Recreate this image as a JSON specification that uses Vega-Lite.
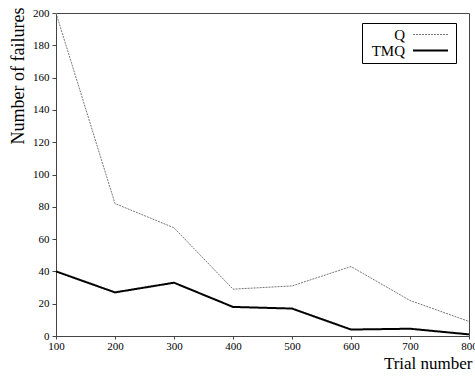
{
  "$schema": "https://vega.github.io/schema/vega-lite/v6.json",
  "autosize": "none",
  "width": 413,
  "height": 323,
  "padding": {"left": 56, "top": 13, "right": 6, "bottom": 41},
  "background": "white",
  "config": {
    "font": "Liberation Serif",
    "view": {"stroke": "#444", "strokeWidth": 1},
    "axis": {"grid": false, "labelFont": "Liberation Serif", "titleFont": "Liberation Serif", "labelColor": "#000", "titleColor": "#000", "domain": false, "tickColor": "#444", "tickSize": 4, "labelFontSize": 11, "titleFontSize": 17, "titleFontWeight": "normal"}
  },
  "data": {"values": [
    {"trial": 100, "series": "Q", "failures": 200},
    {"trial": 200, "series": "Q", "failures": 82},
    {"trial": 300, "series": "Q", "failures": 67},
    {"trial": 400, "series": "Q", "failures": 29},
    {"trial": 500, "series": "Q", "failures": 31},
    {"trial": 600, "series": "Q", "failures": 43},
    {"trial": 700, "series": "Q", "failures": 22},
    {"trial": 800, "series": "Q", "failures": 9},
    {"trial": 100, "series": "TMQ", "failures": 40},
    {"trial": 200, "series": "TMQ", "failures": 27},
    {"trial": 300, "series": "TMQ", "failures": 33},
    {"trial": 400, "series": "TMQ", "failures": 18},
    {"trial": 500, "series": "TMQ", "failures": 17},
    {"trial": 600, "series": "TMQ", "failures": 4},
    {"trial": 700, "series": "TMQ", "failures": 4.5},
    {"trial": 800, "series": "TMQ", "failures": 1}
  ]},
  "mark": {"type": "line"},
  "encoding": {
    "x": {"field": "trial", "type": "quantitative", "scale": {"domain": [100, 800], "nice": false, "zero": false},
      "axis": {"title": "Trial number", "titleAnchor": "end", "titleAlign": "right", "titleFontSize": 17, "titlePadding": 4, "titleX": 416, "values": [100, 200, 300, 400, 500, 600, 700, 800], "labelPadding": 1, "labelFlush": false, "tickSize": 3}},
    "y": {"field": "failures", "type": "quantitative", "scale": {"domain": [0, 200], "nice": false},
      "axis": {"title": "Number of failures", "titleAngle": -90, "titleAlign": "right", "titleBaseline": "middle", "titleX": -38, "titleY": -6, "titleFontSize": 18, "values": [0, 20, 40, 60, 80, 100, 120, 140, 160, 180, 200], "labelPadding": 3}},
    "color": {"field": "series", "type": "nominal", "scale": {"domain": ["Q", "TMQ"], "range": ["#777", "#000"]},
      "legend": {"title": null, "orient": "none", "legendX": 306, "legendY": 10, "symbolType": "M-3.5,0H3.5", "symbolSize": 100, "labelFontSize": 15, "labelAlign": "right", "labelOffset": -33, "strokeColor": "#000", "padding": 4, "symbolOffset": 57, "labelColor": "#000", "rowPadding": -2}},
    "strokeWidth": {"field": "series", "type": "nominal", "scale": {"domain": ["Q", "TMQ"], "range": [1, 2]}, "legend": null},
    "strokeDash": {"field": "series", "type": "nominal", "scale": {"domain": ["Q", "TMQ"], "range": [[2, 1], [1, 0]]}, "legend": null}
  }
}
